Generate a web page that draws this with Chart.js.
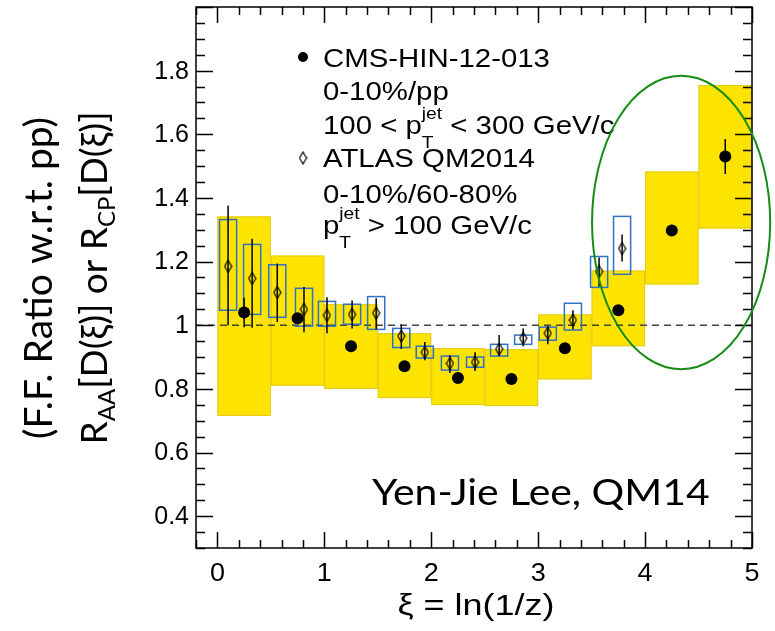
<!DOCTYPE html>
<html>
<head>
<meta charset="utf-8">
<title>Fragmentation function ratio vs xi</title>
<script src="https://cdn.jsdelivr.net/npm/chart.js@4.4.1/dist/chart.umd.min.js"></script>
<style>
  html, body { margin: 0; padding: 0; background: #fff; }
  #wrap { width: 775px; height: 631px; position: relative; }
</style>
</head>
<body>
<div id="wrap"><canvas id="ffChart"></canvas></div>
<script>
// CMS-HIN-12-013, 0-10%/pp, 100 < pT(jet) < 300 GeV/c
const cmsBinLo = [0.0, 0.5, 1.0, 1.5, 2.0, 2.5, 3.0, 3.5, 4.0, 4.5];
const cmsBinHi = [0.5, 1.0, 1.5, 2.0, 2.5, 3.0, 3.5, 4.0, 4.5, 5.0];
const cmsXi    = [0.25, 0.75, 1.25, 1.75, 2.25, 2.75, 3.25, 3.75, 4.25, 4.75];
const cmsRatio = [1.04, 1.022, 0.934, 0.871, 0.834, 0.831, 0.928, 1.047, 1.298, 1.53];
const cmsStat  = [0.046, 0.012, 0.008, 0.008, 0.008, 0.008, 0.010, 0.012, 0.015, 0.055];
const cmsSysLo = [0.715, 0.81, 0.80, 0.771, 0.749, 0.746, 0.83, 0.934, 1.128, 1.304];
const cmsSysHi = [1.342, 1.219, 1.066, 0.975, 0.928, 0.925, 1.034, 1.172, 1.483, 1.755];

// ATLAS QM2014, 0-10%/60-80%, pT(jet) > 100 GeV/c
const atlasXi     = [0.10, 0.325, 0.56, 0.81, 1.025, 1.26, 1.485, 1.72, 1.94, 2.175, 2.41, 2.635, 2.86, 3.09, 3.325, 3.57, 3.785];
const atlasRatio  = [1.185, 1.147, 1.103, 1.05, 1.031, 1.034, 1.038, 0.966, 0.915, 0.88, 0.884, 0.925, 0.959, 0.975, 1.016, 1.169, 1.241];
const atlasStatUp = [0.191, 0.125, 0.091, 0.07, 0.057, 0.044, 0.047, 0.037, 0.032, 0.026, 0.031, 0.044, 0.031, 0.022, 0.031, 0.044, 0.044];
const atlasStatDn = [0.185, 0.155, 0.093, 0.072, 0.056, 0.044, 0.051, 0.041, 0.025, 0.03, 0.028, 0.022, 0.025, 0.035, 0.029, 0.047, 0.041];
const atlasSysLo  = [1.047, 1.034, 1.025, 0.997, 0.997, 1.003, 0.987, 0.93, 0.897, 0.859, 0.868, 0.903, 0.94, 0.953, 0.985, 1.119, 1.16];
const atlasSysHi  = [1.332, 1.254, 1.19, 1.116, 1.075, 1.066, 1.09, 0.99, 0.934, 0.903, 0.90, 0.94, 0.969, 0.994, 1.069, 1.216, 1.342];
const atlasSysHalfWidth = 0.08;

const xTickVals = [0, 1, 2, 3, 4, 5];
const yTickVals = [0.4, 0.6, 0.8, 1.0, 1.2, 1.4, 1.6, 1.8];

// highlighted high-xi region (data units)
const highlight = { xi: 4.337, ratio: 1.323, rXi: 0.833, rRatio: 0.461 };

const ARIAL = '"Liberation Sans", Arial, sans-serif';
const CALIBRI = 'Lato, "Open Sans", sans-serif';

// open diamond marker for ATLAS points
function makeDiamond(w, h, lw) {
  const c = document.createElement('canvas');
  c.width = w + 2; c.height = h + 2;
  const g = c.getContext('2d');
  g.strokeStyle = '#000'; g.lineWidth = lw;
  g.beginPath();
  g.moveTo(c.width / 2, 1);
  g.lineTo(c.width - 1, c.height / 2);
  g.lineTo(c.width / 2, c.height - 1);
  g.lineTo(1, c.height / 2);
  g.closePath();
  g.stroke();
  return c;
}
const diamond = makeDiamond(7, 12, 1.2);

// draws text made of parts; {t, size, dy} or {stack:[sup, sub]}
function richText(ctx, family, x, y, parts, sx) {
  let cx = 0;
  ctx.save();
  ctx.translate(x, y);
  ctx.scale(sx, 1);
  for (const p of parts) {
    if (p.stack) {
      let w = 0;
      for (const s of p.stack) {
        ctx.font = s.size + 'px ' + family;
        ctx.fillText(s.t, cx, s.dy);
        w = Math.max(w, ctx.measureText(s.t).width);
      }
      cx += w;
    } else {
      ctx.font = p.size + 'px ' + family;
      ctx.fillText(p.t, cx, p.dy || 0);
      cx += ctx.measureText(p.t).width;
    }
  }
  ctx.restore();
  return cx;
}

function richWidth(ctx, family, parts) {
  let w = 0;
  ctx.save();
  for (const p of parts) {
    ctx.font = p.size + 'px ' + family;
    w += ctx.measureText(p.t).width;
  }
  ctx.restore();
  return w;
}

const ratioLayers = {
  id: 'ratioLayers',
  beforeDatasetsDraw(chart) {
    const { ctx, chartArea: a, scales: { x, y } } = chart;
    ctx.save();
    ctx.beginPath();
    ctx.rect(a.left, a.top, a.right - a.left, a.bottom - a.top);
    ctx.clip();

    // CMS systematic bands
    cmsBinLo.forEach((lo, i) => {
      const x0 = x.getPixelForValue(lo), x1 = x.getPixelForValue(cmsBinHi[i]);
      const y0 = y.getPixelForValue(cmsSysHi[i]), y1 = y.getPixelForValue(cmsSysLo[i]);
      ctx.fillStyle = '#fce300';
      ctx.fillRect(x0, y0, x1 - x0, y1 - y0);
      ctx.strokeStyle = '#e2cb1a';
      ctx.lineWidth = 1;
      ctx.strokeRect(x0 + 0.5, y0 + 0.5, x1 - x0 - 1, y1 - y0 - 1);
    });

    // unity line
    const y1 = y.getPixelForValue(1);
    ctx.strokeStyle = '#444';
    ctx.lineWidth = 1.5;
    ctx.setLineDash([7, 5]);
    ctx.beginPath();
    ctx.moveTo(a.left, y1);
    ctx.lineTo(a.right, y1);
    ctx.stroke();
    ctx.setLineDash([]);

    // ATLAS systematic boxes
    ctx.strokeStyle = '#2f72c4';
    ctx.lineWidth = 1.5;
    atlasXi.forEach((xi, i) => {
      const x0 = x.getPixelForValue(xi - atlasSysHalfWidth), x1 = x.getPixelForValue(xi + atlasSysHalfWidth);
      const y0 = y.getPixelForValue(atlasSysHi[i]), yb = y.getPixelForValue(atlasSysLo[i]);
      ctx.strokeRect(x0, y0, x1 - x0, yb - y0);
    });

    // statistical error bars
    ctx.strokeStyle = '#000';
    ctx.lineWidth = 1.5;
    ctx.beginPath();
    atlasXi.forEach((xi, i) => {
      const px = x.getPixelForValue(xi);
      ctx.moveTo(px, y.getPixelForValue(atlasRatio[i] + atlasStatUp[i]));
      ctx.lineTo(px, y.getPixelForValue(atlasRatio[i] - atlasStatDn[i]));
    });
    cmsXi.forEach((xi, i) => {
      const px = x.getPixelForValue(xi);
      ctx.moveTo(px, y.getPixelForValue(cmsRatio[i] + cmsStat[i]));
      ctx.lineTo(px, y.getPixelForValue(cmsRatio[i] - cmsStat[i]));
    });
    ctx.stroke();
    ctx.restore();
  },

  afterDatasetsDraw(chart) {
    const { ctx, chartArea: a, scales: { x, y } } = chart;
    ctx.save();
    ctx.strokeStyle = '#000';
    ctx.lineWidth = 1.5;
    ctx.strokeRect(a.left, a.top, a.right - a.left, a.bottom - a.top);

    // ticks on all four sides, pointing inwards
    ctx.beginPath();
    for (let k = 6; k <= 40; k++) {
      const py = Math.round(y.getPixelForValue(k * 0.05)) + 0.5;
      const len = k % 4 === 0 ? 17 : 9;
      ctx.moveTo(a.left, py); ctx.lineTo(a.left + len, py);
      ctx.moveTo(a.right, py); ctx.lineTo(a.right - len, py);
    }
    for (let k = -1; k <= 25; k++) {
      const px = Math.round(x.getPixelForValue(k * 0.2)) + 0.5;
      const len = k % 5 === 0 ? 16 : 8;
      ctx.moveTo(px, a.bottom); ctx.lineTo(px, a.bottom - len);
      ctx.moveTo(px, a.top); ctx.lineTo(px, a.top + len);
    }
    ctx.stroke();

    // tick labels
    ctx.fillStyle = '#000';
    ctx.font = '25px ' + ARIAL;
    ctx.textBaseline = 'middle';
    ctx.textAlign = 'right';
    yTickVals.forEach(v => {
      ctx.fillText(v === 1 ? '1' : v.toFixed(1), a.left - 7, y.getPixelForValue(v) + 1);
    });
    ctx.textAlign = 'center';
    ctx.textBaseline = 'top';
    xTickVals.forEach(v => {
      ctx.save();
      ctx.translate(x.getPixelForValue(v), a.bottom + 14);
      ctx.scale(1.08, 1);
      ctx.fillText(String(v), 0, 0);
      ctx.restore();
    });

    // axis titles
    ctx.textAlign = 'left';
    ctx.textBaseline = 'alphabetic';
    const xTitle = 'ξ = ln(1/z)';
    const xStretch = 1.2;
    ctx.font = '30px ' + ARIAL;
    const xtw = ctx.measureText(xTitle).width * xStretch;
    ctx.save();
    ctx.translate(476 - xtw / 2, 615);
    ctx.scale(xStretch, 1);
    ctx.fillText(xTitle, 0, 0);
    ctx.restore();

    const yMid = 278;
    const line1 = [{ t: '(F.F. Ratio w.r.t. pp)', size: 39 }];
    const line2 = [
      { t: 'R', size: 37 }, { t: 'AA', size: 24, dy: 8 },
      { t: '[D(ξ)] or R', size: 37 }, { t: 'CP', size: 24, dy: 8 },
      { t: '[D(ξ)]', size: 37 }
    ];
    [[line1, 52], [line2, 107]].forEach(([parts, bx]) => {
      const w = richWidth(ctx, CALIBRI, parts);
      ctx.save();
      ctx.translate(bx, yMid);
      ctx.rotate(-Math.PI / 2);
      richText(ctx, CALIBRI, -w / 2, 0, parts, 1);
      ctx.restore();
    });

    // legend
    const lx = 323, legStretch = 1.13;
    ctx.fillStyle = '#000';
    ctx.beginPath();
    ctx.arc(303, 57, 5, 0, Math.PI * 2);
    ctx.fill();
    ctx.drawImage(diamond, 303 - diamond.width / 2, 158 - diamond.height / 2);
    const pT = { stack: [{ t: 'jet', size: 17, dy: -15 }, { t: 'T', size: 17, dy: 14 }] };
    const legendLines = [
      [[{ t: 'CMS-HIN-12-013', size: 26 }], 67],
      [[{ t: '0-10%/pp', size: 26 }], 100],
      [[{ t: '100 < p', size: 26 }, pT, { t: ' < 300 GeV/c', size: 26 }], 134],
      [[{ t: 'ATLAS QM2014', size: 26 }], 167],
      [[{ t: '0-10%/60-80%', size: 26 }], 203],
      [[{ t: 'p', size: 26 }, pT, { t: ' > 100 GeV/c', size: 26 }], 234]
    ];
    legendLines.forEach(([parts, by]) => richText(ctx, ARIAL, lx, by, parts, legStretch));

    // credit
    richText(ctx, CALIBRI, 372, 505, [{ t: 'Yen-Jie Lee, QM14', size: 36.5 }], 1.12);

    // highlight ellipse
    const cx = x.getPixelForValue(highlight.xi), cy = y.getPixelForValue(highlight.ratio);
    const rx = x.getPixelForValue(highlight.xi + highlight.rXi) - cx;
    const ry = cy - y.getPixelForValue(highlight.ratio + highlight.rRatio);
    ctx.strokeStyle = '#168c16';
    ctx.lineWidth = 2;
    ctx.beginPath();
    ctx.ellipse(cx, cy, rx, ry, 0, 0, Math.PI * 2);
    ctx.stroke();
    ctx.restore();
  }
};

new Chart(document.getElementById('ffChart'), {
  type: 'scatter',
  data: {
    datasets: [
      {
        label: 'CMS-HIN-12-013',
        data: cmsXi.map((xi, i) => ({ x: xi, y: cmsRatio[i] })),
        pointStyle: 'circle',
        pointRadius: 6,
        backgroundColor: '#000',
        borderColor: '#000',
        borderWidth: 0
      },
      {
        label: 'ATLAS QM2014',
        data: atlasXi.map((xi, i) => ({ x: xi, y: atlasRatio[i] })),
        pointStyle: diamond,
        pointRadius: 6
      }
    ]
  },
  options: {
    responsive: true,
    maintainAspectRatio: false,
    animation: false,
    layout: { padding: { top: 6, right: 23, left: 0, bottom: 0 } },
    plugins: { legend: { display: false }, tooltip: { enabled: false } },
    scales: {
      x: {
        type: 'linear', min: -0.2, max: 5.0,
        grid: { display: false, drawTicks: false },
        border: { display: false },
        ticks: { display: false },
        afterFit(s) { s.height = 83; }
      },
      y: {
        type: 'linear', min: 0.3, max: 2.0,
        grid: { display: false, drawTicks: false },
        border: { display: false },
        ticks: { display: false },
        afterFit(s) { s.width = 196; }
      }
    }
  },
  plugins: [ratioLayers]
});
</script>
</body>
</html>
